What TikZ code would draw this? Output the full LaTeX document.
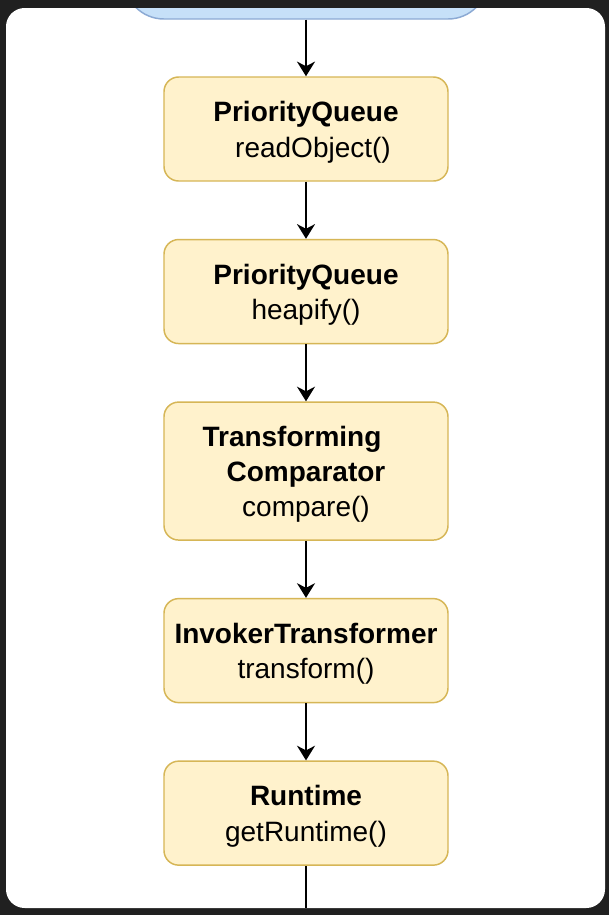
\documentclass[tikz,border=0pt]{standalone}
\usepackage{fontspec}
\setmainfont{Liberation Sans}
\usepackage{tikz}
\usetikzlibrary{arrows.meta, positioning}
\definecolor{bgdark}{RGB}{32,32,32}
\definecolor{boxfill}{RGB}{255,242,204}
\definecolor{boxline}{RGB}{214,182,86}
\definecolor{srcfill}{RGB}{198,224,248}
\definecolor{srcline}{RGB}{140,170,212}
\newcommand{\lift}{\rule{0pt}{20pt}}
\tikzset{
  callbox/.style={rectangle, draw=boxline, fill=boxfill,
    minimum width=213pt, minimum height=78pt, align=center, inner sep=3pt,
    font=\fontsize{21}{26.6}\selectfont, rounded corners=11pt, line width=1.1pt},
  srcbox/.style={rectangle, draw=srcline, fill=srcfill,
    minimum width=273pt, minimum height=67.5pt, rounded corners=30pt, line width=1.1pt},
  arrow/.style={-{Stealth[length=11pt, width=13.5pt, inset=3.5pt]}, line width=1.5pt, color=black},
  line/.style={line width=1.5pt, color=black}
}

\begin{document}
\begin{tikzpicture}[x=0.75pt, y=-0.75pt, node distance=42.8pt]
  % Frame
  \fill[bgdark] (0,0) rectangle (609,915);
  \fill[white, rounded corners=14pt] (6,8) rectangle (605,908);

  % Source box, cut off by the frame
  \begin{scope}
    \clip[rounded corners=14pt] (6,8) rectangle (605,908);
    \node[srcbox] (source) at (306,-26) {};
  \end{scope}

  % Call chain
  \node[callbox] (readobj) at (306,129) {\lift\textbf{PriorityQueue}\\\hspace*{10.5pt}readObject()};
  \node[callbox, below=of readobj] (heapify) {\lift\textbf{PriorityQueue}\\heapify()};
  \node[callbox, below=of heapify, minimum height=103.5pt] (compare) {\lift\textbf{Transforming}\hspace*{21pt}\\\textbf{Comparator}\\compare()};
  \node[callbox, below=of compare] (transform) {\lift\textbf{InvokerTransformer}\\transform()};
  \node[callbox, below=of transform] (runtime) {\lift\textbf{Runtime}\\getRuntime()};
  \coordinate (exit) at (306,908);

  % Arrows
  \draw[arrow] (source) -- (readobj);
  \draw[arrow] (readobj) -- (heapify);
  \draw[arrow] (heapify) -- (compare);
  \draw[arrow] (compare) -- (transform);
  \draw[arrow] (transform) -- (runtime);
  \draw[line] (runtime) -- (exit);
\end{tikzpicture}
\end{document}
